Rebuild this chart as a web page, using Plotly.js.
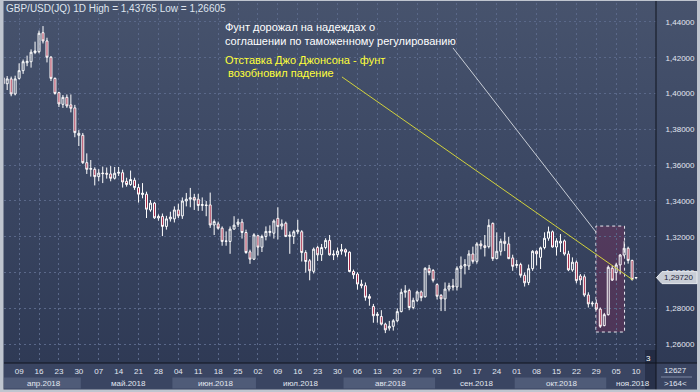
<!DOCTYPE html>
<html><head><meta charset="utf-8">
<script src="https://cdn.plot.ly/plotly-3.0.1.min.js"></script>
<style>
html,body{margin:0;padding:0;width:700px;height:392px;overflow:hidden;
background:linear-gradient(to bottom,#47536d 0%,#3b4763 45%,#2d3853 100%);}
#chart{width:700px;height:392px;}
</style></head><body><div id="chart"></div>
<script>
// ---- data (GBP/USD daily, 03.04.2018 - 12.11.2018) ----
const open=[1.4088,1.4055,1.4082,1.3998,1.4085,1.4128,1.4172,1.4178,1.4229,1.4234,
1.4340,1.4294,1.4203,1.4085,1.4005,1.3940,1.3979,1.3937,1.3920,1.3767,
1.3767,1.3614,1.3577,1.3577,1.3536,1.3556,1.3555,1.3551,1.3527,1.3555,
1.3558,1.3510,1.3492,1.3516,1.3475,1.3436,1.3438,1.3350,1.3388,1.3305,
1.3314,1.3258,1.3300,1.3300,1.3350,1.3317,1.3400,1.3410,1.3420,1.3410,
1.3375,1.3378,1.3378,1.3266,1.3272,1.3248,1.3177,1.3174,1.3243,1.3270,
1.3282,1.3224,1.3116,1.3075,1.3206,1.3142,1.3202,1.3224,1.3220,1.3303,
1.3260,1.3276,1.3202,1.3202,1.3228,1.3228,1.3112,1.3066,1.3007,1.3140,
1.3100,1.3140,1.3180,1.3104,1.3100,1.3120,1.3128,1.3114,1.3006,1.2992,
1.2936,1.2927,1.2867,1.2811,1.2760,1.2755,1.2712,1.2690,1.2700,1.2731,
1.2782,1.2890,1.2900,1.2805,1.2845,1.2892,1.2865,1.3024,1.3012,1.2933,
1.2873,1.2853,1.2908,1.2926,1.2920,1.3024,1.3037,1.3037,1.3104,1.3063,
1.3160,1.3150,1.3145,1.3275,1.3078,1.3119,1.3175,1.3160,1.3082,1.3040,
1.3045,1.2985,1.2945,1.3022,1.3119,1.3085,1.3140,1.3192,1.3228,1.3143,
1.3165,1.3177,1.3104,1.3015,1.3058,1.2981,1.2977,1.2875,1.2825,1.2829,
1.2796,1.2704,1.2765,1.3024,1.3000,1.3043,1.3098,1.3136,1.3068,1.2970];
const high=[1.4100,1.4098,1.4095,1.4100,1.4169,1.4190,1.4212,1.4247,1.4290,1.4352,
1.4377,1.4312,1.4210,1.4090,1.4010,1.3992,1.3995,1.3995,1.3937,1.3796,
1.3780,1.3666,1.3629,1.3588,1.3578,1.3592,1.3587,1.3595,1.3590,1.3590,
1.3575,1.3530,1.3570,1.3530,1.3495,1.3500,1.3452,1.3405,1.3395,1.3325,
1.3330,1.3317,1.3340,1.3370,1.3385,1.3420,1.3445,1.3473,1.3440,1.3440,
1.3420,1.3400,1.3447,1.3297,1.3285,1.3258,1.3230,1.3258,1.3315,1.3300,
1.3300,1.3240,1.3128,1.3220,1.3211,1.3212,1.3258,1.3264,1.3297,1.3365,
1.3297,1.3285,1.3230,1.3237,1.3295,1.3237,1.3125,1.3076,1.3140,1.3150,
1.3160,1.3192,1.3210,1.3125,1.3140,1.3160,1.3135,1.3118,1.3017,1.3002,
1.2960,1.2945,1.2880,1.2825,1.2780,1.2790,1.2720,1.2730,1.2740,1.2800,
1.2910,1.2930,1.2910,1.2860,1.2900,1.2900,1.3030,1.3043,1.3020,1.2940,
1.2880,1.2945,1.2943,1.2965,1.3035,1.3090,1.3075,1.3125,1.3145,1.3170,
1.3180,1.3210,1.3298,1.3280,1.3225,1.3190,1.3225,1.3200,1.3100,1.3070,
1.3055,1.3000,1.3045,1.3125,1.3125,1.3145,1.3225,1.3257,1.3235,1.3192,
1.3215,1.3185,1.3122,1.3085,1.3068,1.2992,1.2990,1.2890,1.2840,1.2850,
1.2805,1.2775,1.3040,1.3040,1.3055,1.3104,1.3175,1.3145,1.3072,1.2974];
const low=[1.4030,1.4020,1.3985,1.3990,1.4078,1.4110,1.4153,1.4145,1.4220,1.4225,
1.4280,1.4174,1.4070,1.3994,1.3925,1.3920,1.3920,1.3895,1.3756,1.3707,
1.3607,1.3551,1.3536,1.3487,1.3510,1.3500,1.3525,1.3510,1.3520,1.3540,
1.3475,1.3480,1.3485,1.3462,1.3391,1.3415,1.3305,1.3340,1.3300,1.3290,
1.3204,1.3240,1.3285,1.3280,1.3305,1.3300,1.3370,1.3365,1.3350,1.3345,
1.3345,1.3315,1.3250,1.3210,1.3240,1.3150,1.3150,1.3105,1.3240,1.3255,
1.3190,1.3105,1.3049,1.3070,1.3095,1.3115,1.3180,1.3205,1.3190,1.3185,
1.3240,1.3198,1.3105,1.3160,1.3215,1.3062,1.3000,1.2957,1.2995,1.3065,
1.3065,1.3130,1.3095,1.3070,1.3085,1.3100,1.3090,1.3002,1.2965,1.2905,
1.2912,1.2843,1.2815,1.2720,1.2720,1.2705,1.2662,1.2676,1.2676,1.2722,
1.2778,1.2860,1.2790,1.2795,1.2835,1.2840,1.2860,1.2985,1.2945,1.2850,
1.2785,1.2785,1.2895,1.2900,1.2900,1.2915,1.2990,1.3015,1.3050,1.3050,
1.3130,1.3090,1.3135,1.3065,1.3075,1.3095,1.3120,1.3075,1.3010,1.3025,
1.2972,1.2922,1.2930,1.3010,1.3040,1.3020,1.3130,1.3178,1.3140,1.3095,
1.3115,1.3095,1.3008,1.3005,1.2940,1.2930,1.2865,1.2805,1.2810,1.2790,
1.2691,1.2700,1.2760,1.2953,1.2955,1.2990,1.3090,1.3050,1.2955,1.2968];
const close=[1.4055,1.4082,1.3998,1.4082,1.4128,1.4178,1.4180,1.4231,1.4238,1.4337,
1.4294,1.4203,1.4085,1.4001,1.3942,1.3979,1.3931,1.3918,1.3782,1.3778,
1.3614,1.3577,1.3581,1.3536,1.3556,1.3553,1.3550,1.3527,1.3555,1.3560,
1.3506,1.3492,1.3520,1.3475,1.3438,1.3444,1.3354,1.3388,1.3306,1.3314,
1.3258,1.3300,1.3310,1.3350,1.3317,1.3400,1.3410,1.3418,1.3405,1.3375,
1.3380,1.3375,1.3266,1.3285,1.3248,1.3174,1.3175,1.3243,1.3265,1.3282,
1.3224,1.3112,1.3075,1.3211,1.3142,1.3202,1.3230,1.3230,1.3288,1.3257,
1.3272,1.3202,1.3210,1.3228,1.3237,1.3112,1.3062,1.3010,1.3131,1.3099,
1.3140,1.3180,1.3099,1.3099,1.3120,1.3128,1.3114,1.3006,1.2988,1.2936,
1.2927,1.2862,1.2856,1.2759,1.2768,1.2712,1.2680,1.2700,1.2731,1.2782,
1.2890,1.2898,1.2805,1.2845,1.2892,1.2860,1.3024,1.3000,1.2957,1.2868,
1.2853,1.2908,1.2926,1.2920,1.3024,1.3037,1.3045,1.3104,1.3063,1.3160,
1.3150,1.3140,1.3264,1.3078,1.3119,1.3175,1.3162,1.3078,1.3035,1.3045,
1.2985,1.2943,1.3022,1.3119,1.3105,1.3138,1.3192,1.3228,1.3143,1.3177,
1.3175,1.3104,1.3015,1.3058,1.2955,1.2959,1.2875,1.2825,1.2829,1.2796,
1.2700,1.2765,1.3030,1.2958,1.3043,1.3098,1.3136,1.3068,1.2962,1.2972];
const weekLabels=['09','16','23','30','07','14','21','28','04','11','18','25','02','09','16','23','30',
'06','13','20','27','03','10','17','24','01','08','15','22','29','05','10'];
const monthLabels=['апр.2018','май.2018','июн.2018','июл.2018','авг.2018','сен.2018','окт.2018','ноя.2018'];
const monthStartIdx=[0,20,43,64,86,109,129,152];
const priceTicks=[1.26,1.28,1.30,1.32,1.34,1.36,1.38,1.40,1.42,1.44];
const titleText='GBP/USD(JQ) 1D High = 1,43765 Low = 1,26605';
const note1=['Фунт дорожал на надеждах о','соглашении по таможенному регулированию'];
const note2=['Отставка Джо Джонсона - фунт','возобновил падение'];

// ---- geometry helpers ----
const L=4,R=656,T=3,B=363;
const X=px=>(px-L)/(R-L);
const Y=py=>(B-py)/(B-T);
const xRange=[0.2,164.0];
const yRange=[1.2495,1.4506];
const xi=open.map((_,i)=>i);
const tickIdx=weekLabels.map((_,k)=>4+5*k);
const ip=i=>(i-xRange[0])/(xRange[1]-xRange[0]);
const FONT='Liberation Sans, Arial, sans-serif';
const TXT='#e2e7f1';

const trace={type:'candlestick',x:xi,open:open,high:high,low:low,close:close,
  increasing:{line:{color:'#ffffff',width:1},fillcolor:'rgba(0,0,0,0)'},
  decreasing:{line:{color:'#ffffff',width:1},fillcolor:'#a3203f'},
  hoverinfo:'skip',showlegend:false};

const shapes=[];
const rect=(x0,y0,x1,y1,fill,layer)=>shapes.push({type:'rect',xref:'paper',yref:'paper',
  x0:X(x0),x1:X(x1),y0:Y(y0),y1:Y(y1),fillcolor:fill,line:{width:0},layer:layer||'below'});
// bottom strip + right-bottom panel
rect(4,363,656,389.5,'#3a4562');
rect(656,363,697,389.5,'#3a4562');
// month bands
monthStartIdx.forEach((s,k)=>{
  const e=k+1<monthStartIdx.length?monthStartIdx[k+1]:xRange[1]+0.5;
  const p0=Math.max(0,ip(s-0.5)),p1=Math.min(1,ip(e-0.5));
  if(k%2===0) shapes.push({type:'rect',xref:'paper',yref:'paper',x0:p0,x1:p1,y0:Y(377.5),y1:Y(388.5),
    fillcolor:'#4f5b78',line:{width:0},layer:'below'});
});
// dark scroll column
rect(645,350,656,389.5,'rgba(26,33,54,0.55)','above');
// panel separator
shapes.push({type:'line',xref:'paper',yref:'paper',x0:X(661),x1:X(692),y0:Y(377),y1:Y(377),line:{color:'#7d88a2',width:1}});
// axis frame lines
shapes.push({type:'line',xref:'paper',yref:'paper',x0:X(656),x1:X(656),y0:Y(0),y1:Y(390),line:{color:'#10141f',width:1}});
shapes.push({type:'line',xref:'paper',yref:'paper',x0:X(4),x1:X(697),y0:Y(363),y1:Y(363),line:{color:'#10141f',width:1}});
// outer frame
rect(0,0,3.5,392,'#bfc5cf','above');
rect(697,0,700,392,'#bfc5cf','above');
rect(0,389.5,700,392,'#bfc5cf','above');
rect(0,0,700,1,'#bfc5cf','above');
// highlighted range
shapes.push({type:'rect',xref:'x',yref:'y',x0:148.9,x1:156.1,y0:1.2668,y1:1.3260,
  fillcolor:'rgba(125,45,90,0.38)',line:{color:'#e8e8f0',width:1,dash:'dot'},layer:'below'});
// pointer lines
shapes.push({type:'line',xref:'x',yref:'y',x0:85.1,y0:1.4093,x1:158.2,y1:1.2959,line:{color:'#d2d23c',width:1}});
shapes.push({type:'line',xref:'x',yref:'y',x0:113.0,y0:1.4255,x1:148.9,y1:1.3227,line:{color:'#c8cdd6',width:1}});
// current price label
const last=close[close.length-1];
const h=6/1790;
shapes.push({type:'path',xref:'paper',yref:'y',
  path:`M ${X(656.5)} ${last} L ${X(662)} ${last+h} L ${X(697)} ${last+h} L ${X(697)} ${last-h} L ${X(662)} ${last-h} Z`,
  fillcolor:'#c8cdd6',line:{color:'#e8ebf0',width:1},layer:'above'});

const ann=[];
const txt=(text,px,py,opts)=>ann.push(Object.assign({text:text,xref:'paper',yref:'paper',x:X(px),y:Y(py),
  showarrow:false,xanchor:'left',yanchor:'middle',font:{family:FONT,size:8,color:TXT}},opts||{}));
txt(titleText,4,8.5,{font:{family:FONT,size:10,color:'#dfe5ef'}});
txt(note1[0],223,27,{font:{family:FONT,size:11,color:'#ffffff'}});
txt(note1[1],223,41,{font:{family:FONT,size:11,color:'#ffffff'}});
txt(note2[0],223,60,{font:{family:FONT,size:11,color:'#ffff3a'}});
txt(note2[1],226,72.5,{font:{family:FONT,size:11,color:'#ffff3a'}});
monthLabels.forEach((m,k)=>{
  const s=monthStartIdx[k];
  const e=k+1<monthStartIdx.length?monthStartIdx[k+1]:xRange[1]+0.5;
  const p0=Math.max(0,ip(s-0.5)),p1=Math.min(1,ip(e-0.5));
  ann.push({text:m,xref:'paper',yref:'paper',x:(p0+p1)/2+1.5/652,y:Y(383),showarrow:false,
    xanchor:'center',yanchor:'middle',font:{family:FONT,size:8,color:TXT}});
});
txt('3',648,358,{xanchor:'center',font:{family:FONT,size:8,color:'#ffffff'}});
txt('12627',675,370.5,{xanchor:'center'});
txt('&gt;164&lt;',675,383,{xanchor:'center'});
ann.push({text:last.toFixed(5).replace('.',','),xref:'paper',yref:'y',x:X(679),y:last,showarrow:false,
  xanchor:'center',yanchor:'middle',font:{family:FONT,size:8,color:'#1c2436'}});

const grid={gridcolor:'#5a6889',griddash:'2px,3px',gridwidth:1};
const layout={
  width:700,height:392,margin:{l:L,r:700-R,t:T,b:392-B},
  paper_bgcolor:'rgba(0,0,0,0)',plot_bgcolor:'rgba(0,0,0,0)',
  separators:', ',showlegend:false,
  xaxis:Object.assign({type:'linear',range:xRange,tickmode:'array',tickvals:tickIdx,ticktext:weekLabels,
    showgrid:true,zeroline:false,showline:false,ticks:'',ticklabelstandoff:2,tickfont:{family:FONT,size:8,color:TXT},
    rangeslider:{visible:false},fixedrange:true},grid),
  yaxis:Object.assign({range:yRange,side:'right',tickmode:'array',tickvals:priceTicks,tickformat:'.5f',
    showgrid:true,zeroline:false,showline:false,ticks:'outside',ticklen:7,tickcolor:'rgba(0,0,0,0)',
    tickfont:{family:FONT,size:8,color:TXT},fixedrange:true},grid),
  shapes:shapes,annotations:ann
};
Plotly.newPlot('chart',[trace],layout,{displayModeBar:false,staticPlot:true});
</script></body></html>
